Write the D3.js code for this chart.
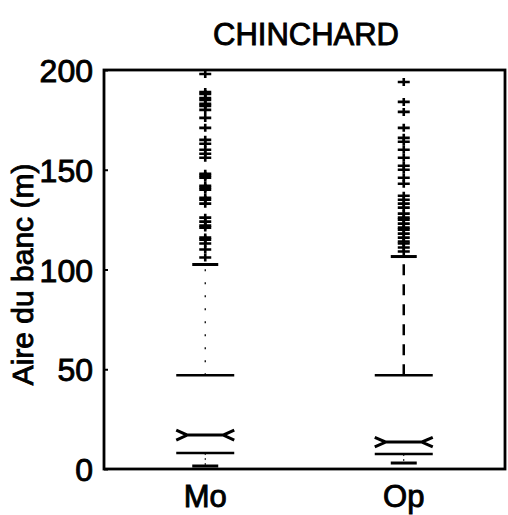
<!DOCTYPE html>
<html lang="fr">
<head>
<meta charset="UTF-8">
<title>CHINCHARD</title>
<script src="https://d3js.org/d3.v7.min.js"></script>
<style>
    body { margin: 0; background: #fff; }
    text { font-family: "Liberation Sans", Arial, Helvetica, sans-serif; fill: #000; stroke: #000; stroke-width: 0.9px; }
</style>
</head>
<body>
<div id="chart"></div>
<script>
// data
const categories = ["Mo", "Op"];
const q1 = [8, 7.5];
const medians = [17, 13.5];
const q3 = [47, 47];
const notchHalf = [2.5, 2.4];
const whiskerLow = [1.5, 3];
const whiskerHigh = [102.5, 106.5];
const outliersMo = [198, 189, 188, 186, 185, 183, 182, 180, 176, 171, 165, 163, 160, 158, 156,
    148, 147, 146, 142, 141, 140, 136, 135, 133, 126, 124, 122, 121, 116, 115, 113, 110, 106];
const outliersOp = [194, 184, 179, 171, 166, 164, 160, 156, 152, 150, 146, 143, 137, 135, 133,
    131, 128, 126, 125, 123, 121, 120, 118, 116, 114, 113, 111, 109];
const yTicks = [0, 50, 100, 150, 200];

const W = 508, H = 515;
const margin = { top: 70, right: 3, bottom: 46, left: 104 };

const svg = d3.select("#chart").append("svg").attr("width", W).attr("height", H);

const x = d3.scalePoint().domain(categories).range([margin.left, W - margin.right]).padding(0.51);
const y = d3.scaleLinear().domain([0, 200]).range([H - margin.bottom, margin.top]);

const boxHalf = 29, capHalf = 13, notchIn = 11;

// frame (box on)
svg.append("rect")
    .attr("x", margin.left).attr("y", margin.top)
    .attr("width", W - margin.right - margin.left)
    .attr("height", y(0) - margin.top)
    .attr("fill", "none").attr("stroke", "#000").attr("stroke-width", 2.8);

// y axis, ticks pointing inward
const yAxis = svg.append("g")
    .attr("transform", `translate(${margin.left},0)`)
    .call(d3.axisLeft(y).tickValues(yTicks).tickSizeInner(-4).tickSizeOuter(0).tickPadding(11));
yAxis.select(".domain").remove();
yAxis.selectAll("line").attr("stroke-width", 2);
yAxis.selectAll("text").style("font-size", "32px").attr("dy", "0.36em");

// x labels
svg.append("g").selectAll("text")
    .data(categories).join("text")
    .attr("x", d => x(d)).attr("y", 507)
    .attr("text-anchor", "middle").style("font-size", "31px")
    .text(d => d);

// title and y label
svg.append("text")
    .attr("x", 306).attr("y", 45)
    .attr("text-anchor", "middle").style("font-size", "31px")
    .text("CHINCHARD");

svg.append("text")
    .attr("transform", `translate(33,${(margin.top + y(0)) / 2 + 5}) rotate(-90)`)
    .attr("text-anchor", "middle").style("font-size", "30px")
    .text("Aire du banc (m)");

// boxes
const boxes = svg.append("g").selectAll("g")
    .data(categories.map((c, i) => ({
        c, q1: q1[i], med: medians[i], q3: q3[i], nh: notchHalf[i],
        lo: whiskerLow[i], hi: whiskerHigh[i], dash: i === 0 ? "2,11" : "11,9", dw: i === 0 ? 1.3 : 2.5
    })))
    .join("g");

// upper whisker (dashed) and caps
boxes.append("line")
    .attr("x1", d => x(d.c)).attr("x2", d => x(d.c))
    .attr("y1", d => y(d.q3)).attr("y2", d => y(d.hi))
    .attr("stroke", "#000").attr("stroke-width", d => d.dw)
    .attr("stroke-dasharray", d => d.dash);
boxes.append("line")
    .attr("x1", d => x(d.c)).attr("x2", d => x(d.c))
    .attr("y1", d => y(d.q1)).attr("y2", d => y(d.lo))
    .attr("stroke", "#000").attr("stroke-width", 1).attr("stroke-dasharray", "2,3");
boxes.selectAll(".cap")
    .data(d => [d.lo, d.hi].map(v => ({ c: d.c, v })))
    .join("line").attr("class", "cap")
    .attr("x1", d => x(d.c) - capHalf).attr("x2", d => x(d.c) + capHalf)
    .attr("y1", d => y(d.v)).attr("y2", d => y(d.v))
    .attr("stroke", "#000").attr("stroke-width", 3);

// quartile lines
boxes.selectAll(".quart")
    .data(d => [d.q1, d.q3].map(v => ({ c: d.c, v })))
    .join("line").attr("class", "quart")
    .attr("x1", d => x(d.c) - boxHalf).attr("x2", d => x(d.c) + boxHalf)
    .attr("y1", d => y(d.v)).attr("y2", d => y(d.v))
    .attr("stroke", "#000").attr("stroke-width", 2.5);

// notched median
boxes.append("path")
    .attr("d", d => {
        const cx = x(d.c), ym = y(d.med), yt = y(d.med + d.nh), yb = y(d.med - d.nh);
        const l = cx - boxHalf, r = cx + boxHalf;
        return `M${l},${yt}L${l + notchIn},${ym}L${l},${yb}` +
            `M${r},${yt}L${r - notchIn},${ym}L${r},${yb}` +
            `M${l + notchIn},${ym}L${r - notchIn},${ym}`;
    })
    .attr("fill", "none").attr("stroke", "#000").attr("stroke-width", 3);

// outliers as '+'
const outliers = [
    ...outliersMo.map(v => ({ c: "Mo", v })),
    ...outliersOp.map(v => ({ c: "Op", v }))
];
svg.append("g").selectAll("path")
    .data(outliers).join("path")
    .attr("d", d => {
        const cx = x(d.c), cy = y(d.v);
        return `M${cx - 6},${cy}L${cx + 6},${cy}M${cx},${cy - 4}L${cx},${cy + 4}`;
    })
    .attr("stroke", "#000").attr("stroke-width", 2.6).attr("fill", "none");
</script>
</body>
</html>
